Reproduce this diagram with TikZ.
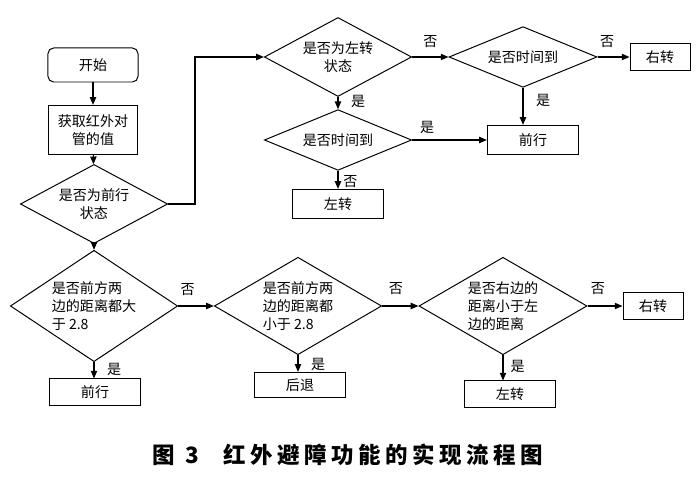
\documentclass[tikz,border=0pt]{standalone}
\usepackage{fontspec}
\setmainfont{Noto Sans CJK SC}
\newfontfamily\capfont{Noto Sans CJK SC}[LetterSpace=20]
\usetikzlibrary{arrows.meta,shapes.geometric}

\begin{document}
\begin{tikzpicture}[
  x=0.025cm,y=-0.025cm,
  every node/.style={font=\fontsize{10}{13}\selectfont},
  box/.style={draw,line width=0.7pt,minimum width=2.28cm,minimum height=0.68cm,align=center},
  sbox/.style={box,minimum width=1.5cm},
  dia/.style={draw,line width=0.7pt,diamond,inner sep=-4pt,align=center},
  yn/.style={inner sep=1pt},
  arrow/.style={-{Triangle[length=5.5pt,width=4.5pt]},line width=0.8pt}
]
\useasboundingbox (0,0) rectangle (700,477);

% left column
\node[box,rounded corners=4pt,minimum width=2.25cm,minimum height=0.85cm] (start) at (93,65) {开始};
\node[box,minimum width=2.23cm,minimum height=1.23cm] (get) at (93,130) {获取红外对\\管的值};
\node[dia,minimum width=3.68cm,minimum height=1.38cm] (d1) at (94,204) {是否为前行\\状态};

% upper branch
\node[dia,minimum width=3.68cm,minimum height=1.73cm] (d2) at (338,57) {是否为左转\\状态};
\node[dia,minimum width=3.7cm,minimum height=1.25cm] (d3) at (523,57) {是否时间到};
\node[sbox,minimum height=0.65cm] (rt1) at (660,57) {右转};
\node[box,minimum height=0.73cm] (fw1) at (533,140) {前行};
\node[dia,minimum width=3.68cm,minimum height=1.28cm] (d4) at (338,140) {是否时间到};
\node[box,minimum height=0.73cm] (lt1) at (338,204) {左转};
\coordinate (bend) at (195,57);

% lower row
\node[dia,align=left,minimum width=4.18cm,minimum height=2.38cm] (d5) at (94,306) {是否前方两\\边的距离都大\\于 2.8};
\node[box,minimum height=0.65cm] (fw2) at (95,392) {前行};
\node[dia,align=left,minimum width=4.18cm,minimum height=2.15cm] (d6) at (298,306) {是否前方两\\边的距离都\\小于 2.8};
\node[box,minimum height=0.63cm] (back) at (300,385) {后退};
\node[dia,align=left,minimum width=4.2cm,minimum height=2.38cm] (d7) at (503,306) {是否右边的\\距离小于左\\边的距离};
\node[sbox,minimum height=0.65cm] (rt2) at (653,306) {右转};
\node[box,minimum height=0.65cm] (lt2) at (510,394) {左转};

\draw[arrow] (start) -- (get);
\draw[arrow] (get) -- (d1);
\draw[arrow] (d1.east) -| (bend) -- (d2.west);
\draw[arrow] (d2) -- node[yn,above=5pt] (n1) {否} (d3);
\draw[arrow] (d3) -- node[yn,above=5pt,pos=0.3] (n2) {否} (rt1);
\draw[arrow] (d3.south) -- node[yn,right=8pt,pos=0.33] (y1) {是} (d3.south |- fw1.north);
\draw[arrow] (d2) -- node[yn,right=8pt,pos=0.4] (y2) {是} (d4);
\draw[arrow] (d4) -- node[yn,above=3pt,pos=0.2] (y3) {是} (fw1);
\draw[arrow] (d4) -- node[yn,right=2.5pt,pos=0.6] (n3) {否} (lt1);
\draw[arrow] (d1) -- (d5);
\draw[arrow] (d5) -- node[yn,above=6pt,pos=0.27] (n4) {否} (d6);
\draw[arrow] (d5.south) -- node[yn,right=8pt,pos=0.45] (y4) {是} (d5.south |- fw2.north);
\draw[arrow] (d6.south) -- node[yn,right=8pt,pos=0.55] (y5) {是} (d6.south |- back.north);
\draw[arrow] (d6) -- node[yn,above=7pt,pos=0.38] (n5) {否} (d7);
\draw[arrow] (d7) -- node[yn,above=7pt,pos=0.3] (n6) {否} (rt2);
\draw[arrow] (d7.south) -- node[yn,right=4pt,pos=0.45] (y6) {是} (d7.south |- lt2.north);

\node[font=\capfont\bfseries\fontsize{16}{18}\selectfont] (cap) at (348,455) {图 3\hspace{1.1em}红外避障功能的实现流程图};
\end{tikzpicture}
\end{document}
